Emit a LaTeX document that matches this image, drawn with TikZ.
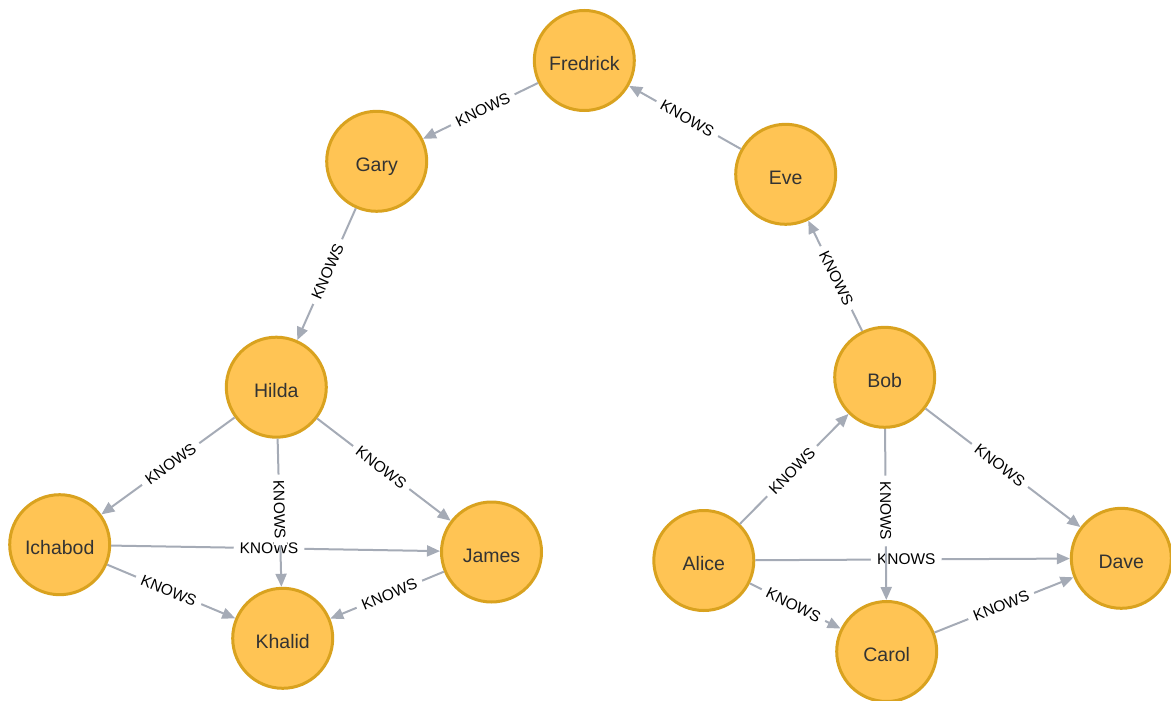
\documentclass[tikz,border=0pt]{standalone}
\usepackage{fontspec}
\setmainfont{Liberation Sans}
\usetikzlibrary{arrows.meta}
\definecolor{nodefill}{HTML}{FFC454}
\definecolor{nodeline}{HTML}{D9A21F}
\definecolor{nodetext}{HTML}{333333}
\definecolor{relline}{HTML}{A5ABB6}
\tikzset{
  person/.style={circle, minimum size=100pt, inner sep=0pt, line width=3pt,
    draw=nodeline, fill=nodefill, text=nodetext,
    text height=20pt, text depth=0pt,
    font=\fontsize{19.5}{22}\selectfont},
  rel/.style={draw=relline, line width=2pt,
    -{Triangle[length=13pt,width=11pt]}},
  rellabel/.style={sloped, pos=0.48, fill=white, inner xsep=6pt, inner ysep=1pt,
    text=black, font=\fontsize{15.5}{17}\selectfont}
}
\begin{document}
\begin{tikzpicture}[x=1pt,y=-1pt]
\clip (0,0) rectangle (1171,701);
\useasboundingbox (0,0) rectangle (1171,701);

% people
\node[person] (fredrick) at (584.3,60.5) {Fredrick};
\node[person] (gary)     at (376.7,161.3) {Gary};
\node[person] (eve)      at (785.7,174.3) {Eve};
\node[person] (hilda)    at (276.3,387.2) {Hilda};
\node[person] (bob)      at (884.7,377.3) {Bob};
\node[person] (ichabod)  at (59.7,544.7) {Ichabod};
\node[person] (james)    at (491.5,552.0) {James};
\node[person] (khalid)   at (282.7,638.3) {Khalid};
\node[person] (alice)    at (703.8,560.5) {Alice};
\node[person] (carol)    at (886.7,651.5) {Carol};
\node[person] (dave)     at (1121.3,558.3) {Dave};

% relationships, left group
\draw[rel] (fredrick) -- node[rellabel] {KNOWS} (gary);
\draw[rel] (eve) -- node[rellabel] {KNOWS} (fredrick);
\draw[rel] (gary) -- node[rellabel] {KNOWS} (hilda);
\draw[rel] (hilda) -- node[rellabel] {KNOWS} (ichabod);
\draw[rel] (hilda) -- node[rellabel] {KNOWS} (james);
\draw[rel] (ichabod) -- node[rellabel] {KNOWS} (james);
\draw[rel] (hilda) -- node[rellabel] {KNOWS} (khalid);
\draw[rel] (ichabod) -- node[rellabel] {KNOWS} (khalid);
\draw[rel] (james) -- node[rellabel] {KNOWS} (khalid);

% relationships, right group
\draw[rel] (bob) -- node[rellabel] {KNOWS} (eve);
\draw[rel] (alice) -- node[rellabel] {KNOWS} (bob);
\draw[rel] (alice) -- node[rellabel] {KNOWS} (dave);
\draw[rel] (bob) -- node[rellabel] {KNOWS} (carol);
\draw[rel] (bob) -- node[rellabel] {KNOWS} (dave);
\draw[rel] (alice) -- node[rellabel] {KNOWS} (carol);
\draw[rel] (carol) -- node[rellabel] {KNOWS} (dave);
\end{tikzpicture}
\end{document}
